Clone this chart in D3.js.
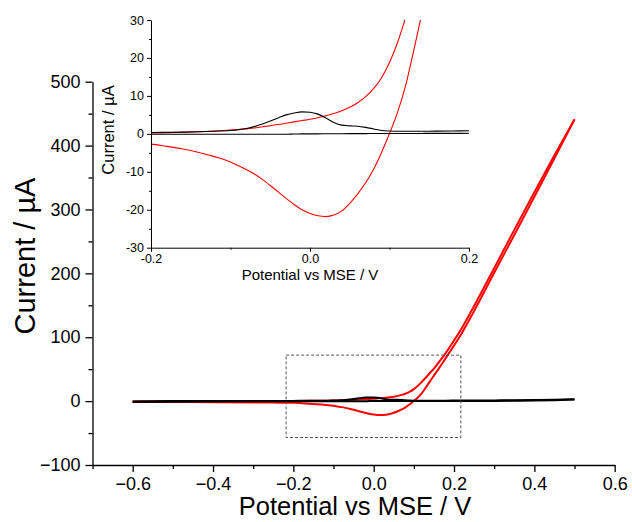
<!DOCTYPE html>
<html><head><meta charset="utf-8">
<script src="https://cdn.jsdelivr.net/npm/d3@7/dist/d3.min.js"></script>
<style>
html,body{margin:0;padding:0;background:#fff;}
svg{display:block;font-family:"Liberation Sans",Arial,sans-serif;}
</style></head>
<body>
<svg id="chart" width="632" height="522"></svg>
<script>
// ---- data ----
const potential = [-0.6,-0.5,-0.4,-0.3,-0.25,-0.2,-0.18,-0.16,-0.14,-0.12,-0.1,-0.09,-0.08,-0.07,-0.06,-0.05,-0.04,-0.03,-0.02,-0.01,0,0.01,0.02,0.03,0.04,0.05,0.06,0.07,0.08,0.09,0.1,0.11,0.12,0.13,0.14,0.15,0.16,0.18,0.2,0.22,0.25,0.3,0.35,0.4,0.45,0.5];
const redForward = [-0.5,-0.3,-0.2,0,0.1,0.25,0.32,0.42,0.55,0.75,1.0,1.15,1.3,1.55,1.85,2.15,2.45,2.8,3.15,3.5,3.85,4.25,4.75,5.35,6.1,7.0,8.2,9.8,11.9,14.8,18.8,24.0,30.4,37,44,51,59,76,95,115,149,208,268,327,385,441];
const redReverse = [-1.0,-1.3,-1.6,-2.0,-2.3,-2.7,-3.3,-4.0,-4.9,-6.0,-7.4,-8.4,-9.4,-10.6,-12.0,-13.6,-15.3,-17.0,-18.6,-20.0,-21.0,-21.6,-21.8,-21.4,-20.3,-18.3,-15.8,-12.9,-9.3,-4.9,0.1,5.6,12.5,21.5,31.0,40,49,68,87,107,141,201,260,320,380,441];
const blackForward = [-0.5,0,0.1,0.2,0.3,0.35,0.4,0.45,0.55,0.7,0.9,1.1,1.4,1.9,2.6,3.4,4.2,5.0,5.5,5.8,5.7,5.2,4.2,3.0,2.3,2.1,2.0,1.7,1.3,0.9,0.75,0.7,0.7,0.7,0.7,0.7,0.72,0.76,0.8,0.83,0.9,1.1,1.3,1.7,2.2,3.0];
const blackReverse = [-1.5,-0.8,-0.5,-0.3,-0.2,-0.1,-0.1,-0.1,-0.1,-0.1,-0.1,-0.1,-0.1,-0.1,-0.1,-0.1,-0.1,-0.1,-0.05,0,0,0,0.02,0.03,0.04,0.05,0.06,0.07,0.08,0.09,0.1,0.1,0.1,0.11,0.11,0.12,0.12,0.13,0.14,0.15,0.18,0.3,0.5,0.8,1.4,2.5];

const mainXTicks = [-0.6,-0.4,-0.2,0.0,0.2,0.4,0.6];
const mainXMinor = [-0.7,-0.5,-0.3,-0.1,0.1,0.3,0.5];
const mainYTicks = [-100,0,100,200,300,400,500];
const mainYMinor = [-50,50,150,250,350,450];
const insetXTicks = [-0.2,0.0,0.2];
const insetXMinor = [-0.1,0.1];
const insetYTicks = [-30,-20,-10,0,10,20,30];
const insetYMinor = [-25,-15,-5,5,15,25];
const zoomBoxX = [-0.218,0.217];
const zoomBoxY = [-57,72];

const xLabel = "Potential vs MSE / V";
const yLabel = "Current / \u00b5A";

// ---- layout ----
const svg = d3.select("#chart");
const x = d3.scaleLinear([-0.7,0.6],[92.5,614.7]);
const y = d3.scaleLinear([-100,500],[465,81.7]);
const xi = d3.scaleLinear([-0.2,0.2],[151,469]);
const yi = d3.scaleLinear([-30,30],[247.7,20]);

const series = [
  {vals:redForward,color:"#ff0000"},
  {vals:redReverse,color:"#ff0000"},
  {vals:blackForward,color:"#000000"},
  {vals:blackReverse,color:"#000000"}
];

function fmtMain(d){ return (d<0?"\u2212":"") + Math.abs(d).toFixed(1); }
function fmtMainY(d){ return (d<0?"\u2212":"") + Math.abs(d); }

// main curves
const lineMain = d3.line().x(d=>x(d[0])).y(d=>y(d[1])).curve(d3.curveMonotoneX);
series.forEach(s=>{
  svg.append("path").datum(potential.map((p,i)=>[p,s.vals[i]]))
    .attr("d",lineMain).attr("fill","none").attr("stroke",s.color)
    .attr("stroke-width",2).attr("stroke-linejoin","round");
});

// main axes
function styleAxis(g){
  g.selectAll(".domain").attr("stroke","#000").attr("stroke-width",1.3);
  g.selectAll(".tick line").attr("stroke","#000").attr("stroke-width",1.3);
}
const gx = svg.append("g").attr("transform","translate(0,465)")
  .call(d3.axisBottom(x).tickValues(mainXTicks).tickFormat(fmtMain).tickSize(7).tickSizeOuter(0).tickPadding(5));
gx.selectAll("text").attr("font-size",18).attr("fill","#000").attr("font-family","Liberation Sans, Arial, sans-serif");
styleAxis(gx);
const gxm = svg.append("g").attr("transform","translate(0,465)")
  .call(d3.axisBottom(x).tickValues(mainXMinor).tickFormat("").tickSize(4).tickSizeOuter(0));
gxm.select(".domain").remove(); styleAxis(gxm);

const gy = svg.append("g").attr("transform","translate(92.5,0)")
  .call(d3.axisLeft(y).tickValues(mainYTicks).tickFormat(fmtMainY).tickSize(7).tickSizeOuter(0).tickPadding(5));
gy.selectAll("text").attr("font-size",18).attr("fill","#000").attr("font-family","Liberation Sans, Arial, sans-serif");
styleAxis(gy);
const gym = svg.append("g").attr("transform","translate(92.5,0)")
  .call(d3.axisLeft(y).tickValues(mainYMinor).tickFormat("").tickSize(4).tickSizeOuter(0));
gym.select(".domain").remove(); styleAxis(gym);

svg.append("text").attr("x",355).attr("y",515).attr("text-anchor","middle")
  .attr("font-size",25.5).text(xLabel);
svg.append("text").attr("transform","translate(35,256) rotate(-90)").attr("text-anchor","middle")
  .attr("font-size",29).text(yLabel);

// dashed zoom box
svg.append("rect").attr("x",x(zoomBoxX[0])).attr("y",y(zoomBoxY[1]))
  .attr("width",x(zoomBoxX[1])-x(zoomBoxX[0])).attr("height",y(zoomBoxY[0])-y(zoomBoxY[1]))
  .attr("fill","none").attr("stroke","#555").attr("stroke-width",1).attr("stroke-dasharray","3,2");

// ---- inset ----
svg.append("clipPath").attr("id","clipInset").append("rect")
  .attr("x",151).attr("y",20).attr("width",318).attr("height",227.7);
const lineInset = d3.line().x(d=>xi(d[0])).y(d=>yi(d[1])).curve(d3.curveMonotoneX);
const gi = svg.append("g").attr("clip-path","url(#clipInset)");
series.forEach(s=>{
  gi.append("path").datum(potential.map((p,i)=>[p,s.vals[i]]))
    .attr("d",lineInset).attr("fill","none").attr("stroke",s.color)
    .attr("stroke-width",1.1).attr("stroke-linejoin","round");
});

function styleInset(g){
  g.selectAll(".domain").attr("stroke","#000").attr("stroke-width",1);
  g.selectAll(".tick line").attr("stroke","#000").attr("stroke-width",1);
  g.selectAll("text").attr("font-size",12.5).attr("fill","#000").attr("font-family","Liberation Sans, Arial, sans-serif");
}
const gix = svg.append("g").attr("transform","translate(0,247.7)")
  .call(d3.axisBottom(xi).tickValues(insetXTicks).tickFormat(d=>d.toFixed(1)).tickSize(4).tickSizeOuter(0).tickPadding(2));
styleInset(gix);
const gixm = svg.append("g").attr("transform","translate(0,247.7)")
  .call(d3.axisBottom(xi).tickValues(insetXMinor).tickFormat("").tickSize(2).tickSizeOuter(0));
gixm.select(".domain").remove(); styleInset(gixm);
const giy = svg.append("g").attr("transform","translate(151,0)")
  .call(d3.axisLeft(yi).tickValues(insetYTicks).tickFormat(d=>String(d)).tickSize(4).tickSizeOuter(0).tickPadding(3));
styleInset(giy);
const giym = svg.append("g").attr("transform","translate(151,0)")
  .call(d3.axisLeft(yi).tickValues(insetYMinor).tickFormat("").tickSize(2).tickSizeOuter(0));
giym.select(".domain").remove(); styleInset(giym);

svg.append("text").attr("x",310).attr("y",280).attr("text-anchor","middle")
  .attr("font-size",15).text(xLabel);
svg.append("text").attr("transform","translate(114,130) rotate(-90)").attr("text-anchor","middle")
  .attr("font-size",16.5).text(yLabel);
</script>
</body></html>
